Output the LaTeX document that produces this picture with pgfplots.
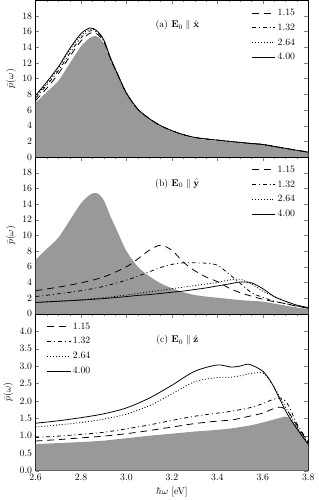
\documentclass[border=0pt]{standalone}
\usepackage{pgfplots}
\pgfplotsset{compat=1.18}
\usepackage{pgfplotstable}
\usepgfplotslibrary{groupplots}

% panel (a): x, gray reference, then the four curves
\pgfplotstableread{
x     g     a     b     c     d
2.60  6.9   7.2   7.5   7.7   7.85
2.65  8.3   8.8   9.2   9.4   9.6
2.70  9.7   10.6  11.0  11.3  11.5
2.75  11.9  12.8  13.2  13.6  13.8
2.80  14.1  14.8  15.2  15.5  15.75
2.84  15.2  15.8  16.1  16.3  16.45
2.87  15.4  15.7  15.9  16.0  16.1
2.90  14.5  14.7  14.8  14.9  14.95
2.93  12.4  12.5  12.55 12.6  12.6
2.96  10.5  10.6  10.6  10.65 10.65
3.00  8.0   8.1   8.1   8.15  8.15
3.05  6.0   6.1   6.1   6.1   6.1
3.10  4.8   4.9   4.9   4.9   4.9
3.15  3.9   4.0   4.0   4.0   4.0
3.20  3.25  3.35  3.35  3.35  3.35
3.25  2.75  2.85  2.85  2.85  2.85
3.30  2.4   2.5   2.5   2.5   2.5
3.35  2.2   2.3   2.3   2.3   2.3
3.40  2.05  2.15  2.15  2.15  2.15
3.45  1.9   2.0   2.0   2.0   2.0
3.50  1.75  1.85  1.85  1.85  1.85
3.55  1.65  1.72  1.72  1.72  1.72
3.60  1.55  1.6   1.6   1.6   1.6
3.65  1.3   1.35  1.35  1.35  1.35
3.70  1.05  1.1   1.1   1.1   1.1
3.75  0.8   0.85  0.85  0.85  0.85
3.80  0.6   0.62  0.62  0.62  0.62
}\tabx

% panel (b)
\pgfplotstableread{
x     a     b     c     d
2.60  2.95  2.2   1.45  1.45
2.70  3.4   2.55  1.6   1.6
2.80  3.95  2.95  1.8   1.75
2.90  4.7   3.5   2.05  1.95
3.00  6.0   4.3   2.4   2.2
3.05  7.0   4.8   2.6   2.35
3.10  8.1   5.35  2.8   2.45
3.15  8.75  5.9   3.0   2.6
3.20  8.1   6.3   3.2   2.75
3.25  6.6   6.5   3.4   2.9
3.30  5.5   6.5   3.6   3.1
3.35  4.7   6.45  3.8   3.3
3.40  4.1   6.2   4.0   3.55
3.45  3.3   5.1   4.3   3.8
3.50  2.7   3.9   4.4   4.05
3.55  2.25  2.7   3.8   3.95
3.60  1.85  2.1   2.9   3.2
3.65  1.55  1.6   2.2   2.2
3.70  1.3   1.3   1.6   1.6
3.75  0.95  1.0   1.1   1.1
3.80  0.7   0.75  0.75  0.8
}\taby

% panel (c)
\pgfplotstableread{
x     g     a     b     c     d
2.60  0.76  0.85  0.95  1.25  1.36
2.70  0.79  0.89  0.99  1.31  1.43
2.80  0.82  0.94  1.04  1.38  1.52
2.90  0.86  0.99  1.10  1.48  1.63
3.00  0.93  1.06  1.20  1.62  1.80
3.10  1.00  1.15  1.31  1.86  2.08
3.20  1.06  1.25  1.44  2.20  2.45
3.30  1.12  1.35  1.56  2.55  2.85
3.40  1.17  1.42  1.65  2.67  3.03
3.46  1.21  1.45  1.70  2.68  2.97
3.50  1.25  1.50  1.75  2.72  3.00
3.54  1.29  1.56  1.80  2.78  3.05
3.60  1.38  1.65  1.92  2.80  2.85
3.64  1.45  1.76  2.03  2.50  2.50
3.68  1.52  1.82  2.08  2.05  1.98
3.71  1.54  1.70  1.90  1.70  1.60
3.75  1.25  1.30  1.35  1.25  1.20
3.80  0.78  0.80  0.82  0.78  0.75
}\tabz

\tikzset{
  s115/.style={black, line width=0.8pt, dash pattern=on 7pt off 5pt},
  s132/.style={black, line width=0.8pt, dash pattern=on 4pt off 3pt on 1pt off 3pt},
  s264/.style={black, line width=0.8pt, dash pattern=on 1pt off 2pt},
  s400/.style={black, line width=0.8pt},
}

\begin{document}
\begin{tikzpicture}
\begin{groupplot}[
  group style={group size=1 by 3, vertical sep=0pt, xticklabels at=edge bottom},
  scale only axis, width=280pt, height=161pt,
  xmin=2.6, xmax=3.8,
  xtick={2.6,2.8,3.0,3.2,3.4,3.6,3.8}, minor x tick num=3,
  tick align=inside, major tick length=4pt, minor tick length=2pt,
  xticklabel style={/pgf/number format/.cd, fixed, fixed zerofill, precision=1},
  ylabel={$\bar{p}(\omega)$},
  legend style={draw=none, fill=none, row sep=3pt},
  legend cell align=left,
  legend image code/.code={\draw[#1] (0pt,0pt) -- (24pt,0pt);},
]
\nextgroupplot[ymin=0, ymax=20, ytick={0,2,4,6,8,10,12,14,16,18},
  legend style={at={(0.97,0.97)}, anchor=north east}]
\addplot[fill=black!40, draw=none, smooth, forget plot] table[x=x, y=g] {\tabx} \closedcycle;
\addplot[s115, smooth] table[x=x, y=a] {\tabx};
\addplot[s132, smooth] table[x=x, y=b] {\tabx};
\addplot[s264, smooth] table[x=x, y=c] {\tabx};
\addplot[s400, smooth] table[x=x, y=d] {\tabx};
\legend{1.15, 1.32, 2.64, 4.00}
\node at (rel axis cs:0.52,0.84) {(a) $\mathbf{E}_0 \parallel \hat{\mathbf{x}}$};

\nextgroupplot[ymin=0, ymax=20, ytick={0,2,4,6,8,10,12,14,16,18},
  legend style={at={(0.97,0.97)}, anchor=north east}]
\addplot[fill=black!40, draw=none, smooth, forget plot] table[x=x, y=g] {\tabx} \closedcycle;
\addplot[s115, smooth] table[x=x, y=a] {\taby};
\addplot[s132, smooth] table[x=x, y=b] {\taby};
\addplot[s264, smooth] table[x=x, y=c] {\taby};
\addplot[s400, smooth] table[x=x, y=d] {\taby};
\legend{1.15, 1.32, 2.64, 4.00}
\node at (rel axis cs:0.52,0.83) {(b) $\mathbf{E}_0 \parallel \hat{\mathbf{y}}$};

\nextgroupplot[ymin=0, ymax=4.5, ytick={0,0.5,1,1.5,2,2.5,3,3.5,4},
  yticklabel style={/pgf/number format/.cd, fixed, fixed zerofill, precision=1},
  xlabel={$\hbar\omega$ [eV]},
  legend style={at={(0.03,0.97)}, anchor=north west}]
\addplot[fill=black!40, draw=none, smooth, forget plot] table[x=x, y=g] {\tabz} \closedcycle;
\addplot[s115, smooth] table[x=x, y=a] {\tabz};
\addplot[s132, smooth] table[x=x, y=b] {\tabz};
\addplot[s264, smooth] table[x=x, y=c] {\tabz};
\addplot[s400, smooth] table[x=x, y=d] {\tabz};
\legend{1.15, 1.32, 2.64, 4.00}
\node at (rel axis cs:0.52,0.83) {(c) $\mathbf{E}_0 \parallel \hat{\mathbf{z}}$};
\end{groupplot}
\path ([xshift=11pt]group c1r1.north east);
\end{tikzpicture}
\end{document}
